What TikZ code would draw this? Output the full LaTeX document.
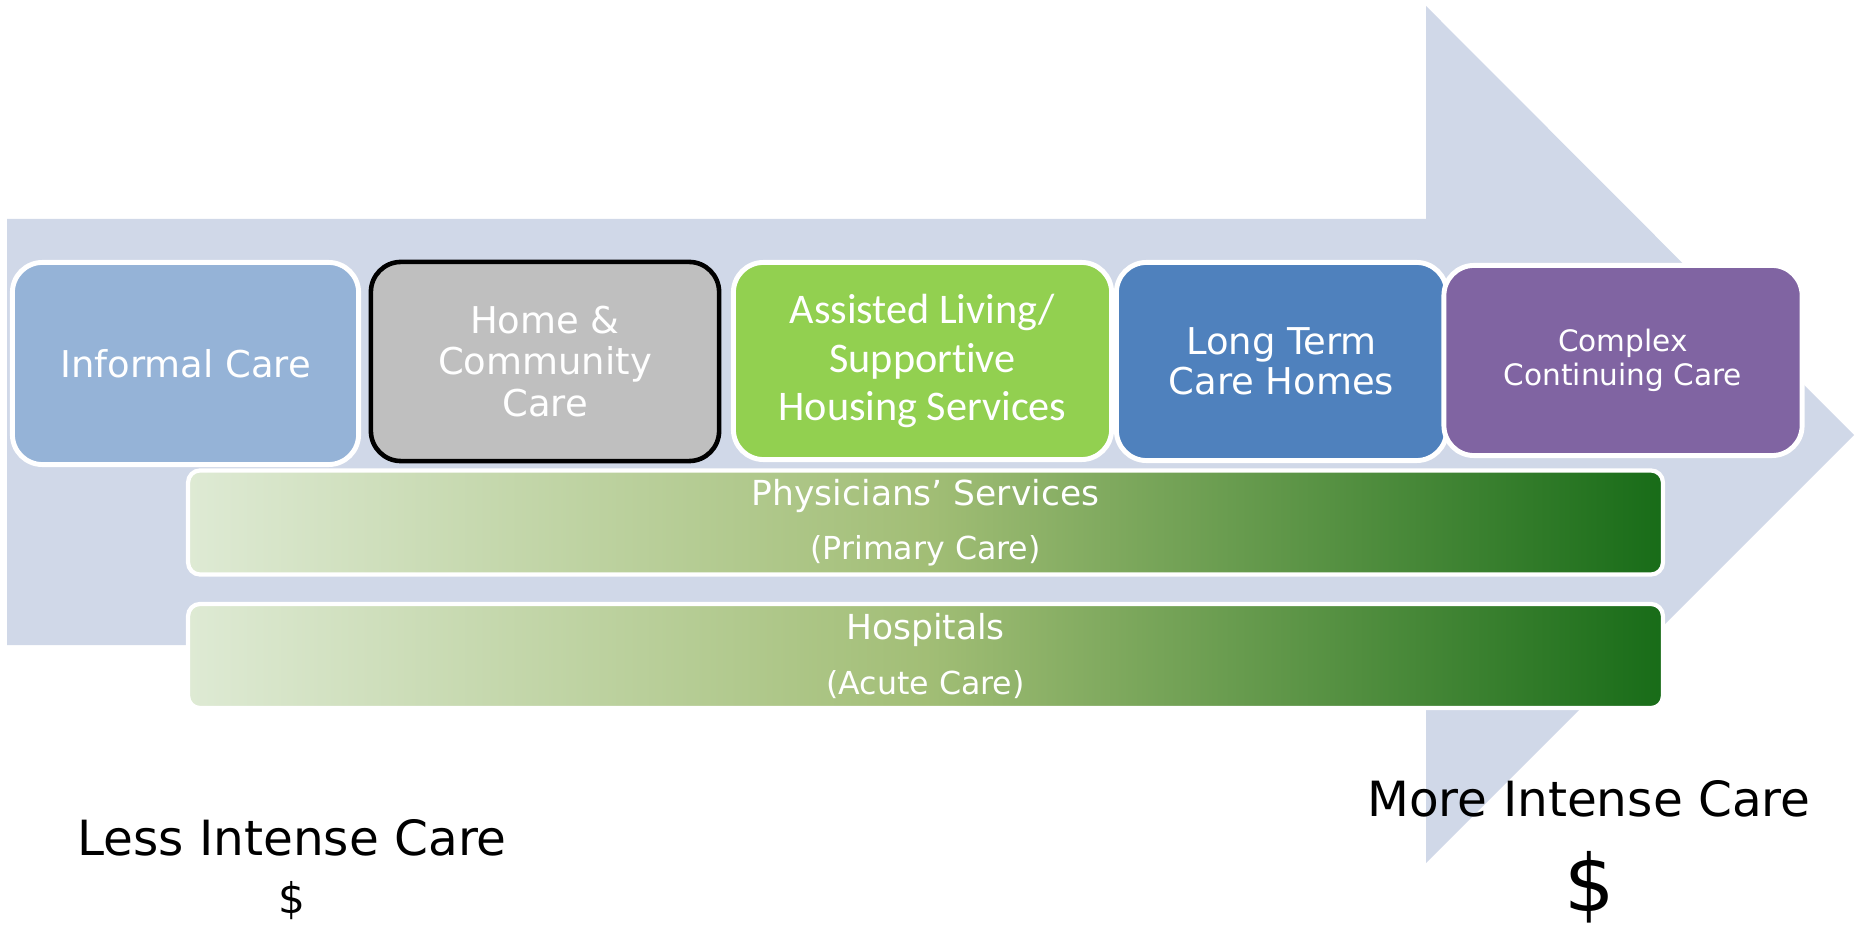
\documentclass[tikz,border=0pt]{standalone}
\usepackage{fontspec}
\setmainfont{DejaVu Sans}
\newfontfamily\carlito[Ligatures=NoCommon]{Carlito}
\usepackage{tikz}
\usetikzlibrary{positioning}
\usepackage{xcolor}

\definecolor{arrowgrey}{RGB}{208,216,232}
\definecolor{informal}{RGB}{149,179,215}
\definecolor{homecare}{RGB}{191,191,191}
\definecolor{assisted}{RGB}{146,208,80}
\definecolor{longterm}{RGB}{79,129,189}
\definecolor{complexcc}{RGB}{128,100,162}
\definecolor{barlight}{RGB}{222,234,212}
\definecolor{barmid}{RGB}{162,190,118}
\definecolor{bardark}{RGB}{24,108,24}

\begin{document}
\begin{tikzpicture}[x=0.01cm, y=-0.01cm,
    carebox/.style={draw=white, line width=1.4pt, rounded corners=0.3cm, text=white, align=center, inner sep=0pt},
    servicebar/.style={draw=white, line width=1.2pt, rounded corners=0.12cm, left color=barlight, right color=bardark, middle color=barmid, text=white, align=center, inner sep=0pt, minimum width=14.74cm, minimum height=1.04cm, font=\fontsize{9}{15.5}\selectfont},
    costlabel/.style={anchor=base, text=black, font=\fontsize{13.8}{16}\selectfont}]
    \useasboundingbox (0,0) rectangle (1858,928);

    % Big arrow in the back
    \fill[arrowgrey] (7,219) -- (1426,219) -- (1426,6) -- (1854,435) -- (1426,863) -- (1426,645) -- (7,645) -- cycle;

    % Care settings
    \node[carebox, fill=informal, minimum width=3.46cm, minimum height=2.02cm, font=\fontsize{10.5}{11.7}\selectfont] (informal) at (185.5,363.5) {Informal Care};
    \node[carebox, fill=homecare, draw=black, line width=1.3pt, minimum width=3.48cm, minimum height=1.99cm, font=\fontsize{10.5}{11.7}\selectfont] (home) at (545,361.5) {Home \&\\Community\\Care};
    \node[carebox, fill=assisted, minimum width=3.78cm, minimum height=1.97cm, font=\carlito\fontsize{12}{13.7}\selectfont] (assisted) at (922.5,361) {Assisted Living/\\Supportive\\Housing Services};
    \node[carebox, fill=longterm, minimum width=3.30cm, minimum height=1.98cm, font=\fontsize{10.5}{11.4}\selectfont] (longterm) at (1281.5,361.5) {Long Term\\Care Homes};
    \node[carebox, fill=complexcc, minimum width=3.58cm, minimum height=1.90cm, font=\fontsize{8.4}{9.7}\selectfont] (complex) at (1623,360.5) {Complex\\Continuing Care};

    % Services across all settings
    \node[servicebar] (physicians) at (925.5,522.5) {{\fontsize{9.8}{15.5}\selectfont Physicians’ Services}\\(Primary Care)};
    \node[servicebar] (hospitals) at (925.5,656) {{\fontsize{9.8}{15.5}\selectfont Hospitals}\\(Acute Care)};

    % Cost ends
    \node[costlabel] (lessintense) at (292,855) {Less Intense Care};
    \node[costlabel, font=\fontsize{12}{14}\selectfont] (lesscost) at (292,913) {\$};
    \node[costlabel] (moreintense) at (1589,816) {More Intense Care};
    \node[costlabel, font=\fontsize{22.5}{26}\selectfont] (morecost) at (1590,911) {\$};
\end{tikzpicture}
\end{document}
